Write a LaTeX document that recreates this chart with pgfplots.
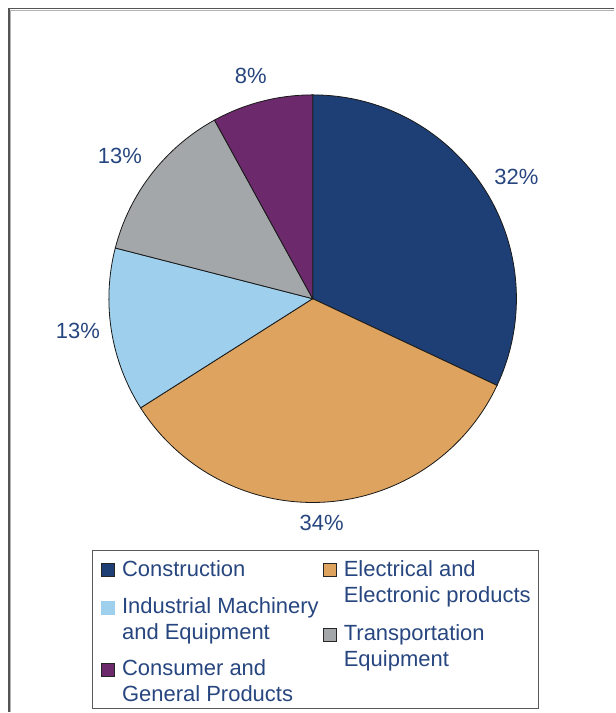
\documentclass[border=0pt]{standalone}
\usepackage{pgfplots}
\usepackage{pgfplotstable}
\pgfplotsset{compat=1.18}
\usepackage{fontspec}
\setmainfont{Liberation Sans}
\definecolor{cConstr}{HTML}{1E3F75}
\definecolor{cElec}{HTML}{DDA35F}
\definecolor{cInd}{HTML}{9ECFEC}
\definecolor{cTrans}{HTML}{A3A7AA}
\definecolor{cCons}{HTML}{6C2A6C}
\definecolor{txt}{HTML}{27467F}
\definecolor{frame}{HTML}{555555}

\pgfplotstableread{
share color
32 cConstr
34 cElec
13 cInd
13 cTrans
8 cCons
}\piedata

\begin{document}
\begin{tikzpicture}
\begin{axis}[
  x=1pt, y=1pt,
  xmin=0, xmax=615, ymin=-713, ymax=0,
  hide axis, scale only axis, clip=false,
]
\path (axis cs:0,0) rectangle (axis cs:615,-713);
% outer frame (left and top)
\draw[frame, line width=1.6pt] (axis cs:9,-713) -- (axis cs:9,-8.5) -- (axis cs:615,-8.5);
\draw[black!30, line width=0.8pt] (axis cs:10.8,-713) -- (axis cs:10.8,-10.3) -- (axis cs:615,-10.3);

% pie slices from the table
\pgfplotstablegetrowsof{\piedata}
\pgfmathtruncatemacro\nrows{\pgfplotsretval-1}
\gdef\cumul{90}
\foreach \i in {0,...,\nrows}{
  \pgfplotstablegetelem{\i}{share}\of\piedata \let\val\pgfplotsretval
  \pgfplotstablegetelem{\i}{color}\of\piedata \let\col\pgfplotsretval
  \pgfmathsetmacro\endang{\cumul-3.6*\val}
  \edef\doslice{\noexpand\filldraw[fill=\col, draw=black!90, line width=0.8pt]
     (axis cs:313,-299) -- ++(\cumul:204pt) arc[start angle=\cumul, end angle=\endang, radius=204pt] -- cycle;}
  \doslice
  \xdef\cumul{\endang}
}

% percentage labels
\begin{scope}[every node/.style={text=txt, font=\fontsize{22}{26}\selectfont, inner sep=0pt}]
\node at (axis cs:517,-177) {32\%};
\node at (axis cs:322,-524) {34\%};
\node at (axis cs:78,-331) {13\%};
\node at (axis cs:120,-156) {13\%};
\node at (axis cs:251,-76) {8\%};
\end{scope}

% legend box
\draw[black!65, line width=0.9pt] (axis cs:93,-551) rectangle (axis cs:539.5,-709);
\filldraw[fill=cConstr, draw=black!85, line width=0.8pt] (axis cs:101.5,-564.5) rectangle (axis cs:115,-577.5);
\fill[cInd] (axis cs:101,-602) rectangle (axis cs:115.5,-615.5);
\filldraw[fill=cCons, draw=black!85, line width=0.8pt] (axis cs:101.5,-664.5) rectangle (axis cs:115,-677.5);
\filldraw[fill=cElec, draw=black!85, line width=0.8pt] (axis cs:323.5,-564.5) rectangle (axis cs:337,-577.5);
\filldraw[fill=cTrans, draw=black!85, line width=0.8pt] (axis cs:323.5,-629) rectangle (axis cs:337,-642);
\begin{scope}[every node/.style={text=txt, font=\fontsize{22}{26}\selectfont, inner sep=0pt, anchor=base west}]
\node at (axis cs:122,-577) {Construction};
\node at (axis cs:122,-614) {Industrial Machinery};
\node at (axis cs:122,-640) {and Equipment};
\node at (axis cs:122,-676) {Consumer and};
\node at (axis cs:122,-702) {General Products};
\node at (axis cs:344,-577) {Electrical and};
\node at (axis cs:344,-603) {Electronic products};
\node at (axis cs:344,-641) {Transportation};
\node at (axis cs:344,-667) {Equipment};
\end{scope}
\end{axis}
\end{tikzpicture}
\end{document}
